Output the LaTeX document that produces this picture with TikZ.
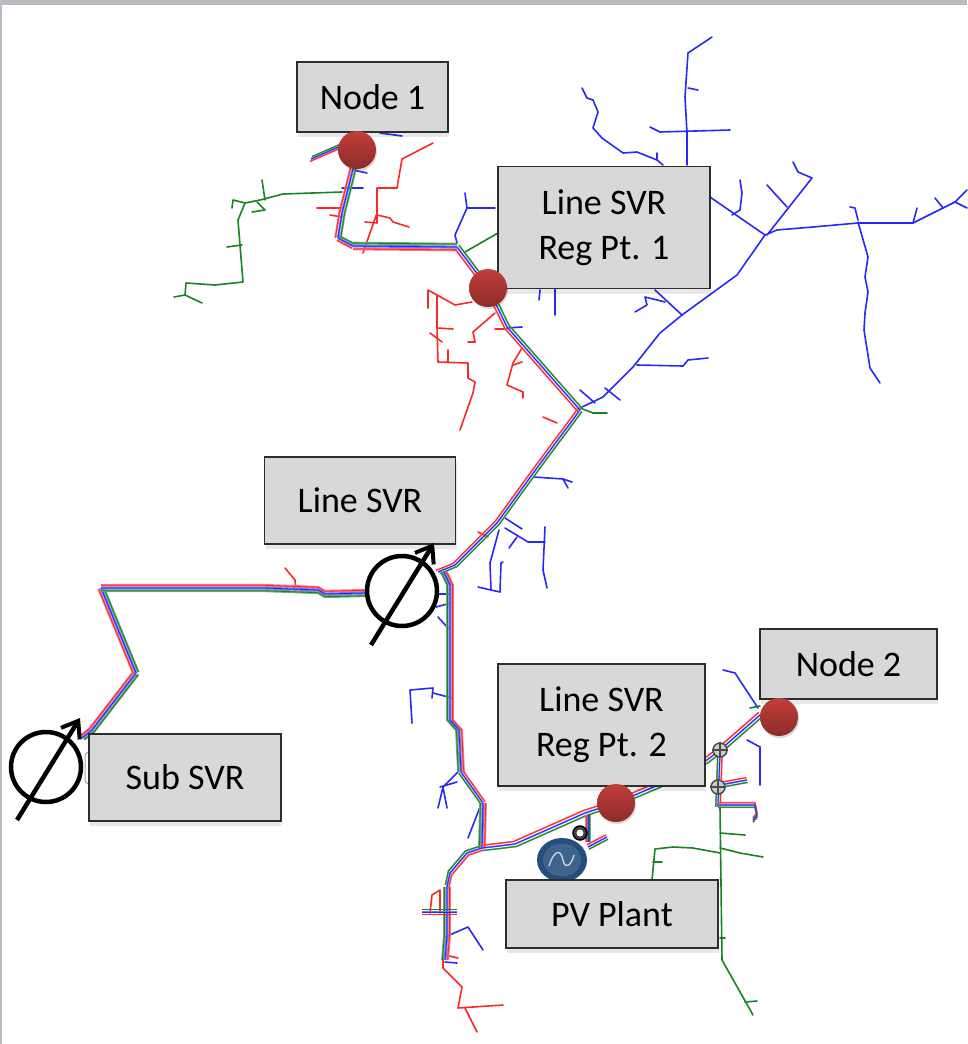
\documentclass[tikz,border=0pt]{standalone}
\usepackage{fontspec}
\setmainfont{Carlito}
\definecolor{phasered}{RGB}{250,40,40}
\definecolor{phaseblue}{RGB}{40,40,250}
\definecolor{phasegreen}{RGB}{25,130,35}
\definecolor{boxfill}{RGB}{216,216,216}
\definecolor{boxline}{RGB}{45,45,45}
\definecolor{frameband}{RGB}{188,186,192}
\definecolor{dottop}{RGB}{194,62,58}
\definecolor{dotlow}{RGB}{140,44,42}
\definecolor{pvblue}{RGB}{36,78,126}
\usetikzlibrary{arrows.meta,shadows,shapes.geometric}
\tikzset{
  svrbox/.style={draw=boxline, line width=1.8pt, fill=boxfill, align=center, inner sep=0pt,
    font=\fontsize{36}{45}\selectfont, drop shadow={shadow xshift=1pt, shadow yshift=-5pt, opacity=0.09, fill=black}},
  regdot/.style={circle, minimum size=38pt, inner sep=0pt, top color=dottop, bottom color=dotlow,
    drop shadow={shadow xshift=1pt, shadow yshift=-2pt, opacity=0.15, fill=black}},
  tap/.style={line width=1.6pt, line join=round, line cap=round},
  regring/.style={draw=black, line width=4.5pt, fill=white, circle, minimum size=70pt, inner sep=0pt},
  regarrow/.style={line width=4.5pt, black, -{Straight Barb[length=15pt, width=22pt, line width=4pt]}},
  switchring/.style={draw=black!70, line width=1.5pt, fill=black!20, circle, minimum size=14pt, inner sep=0pt},
}
\newcommand{\phases}[4][2.4pt]{
  \draw[phasegreen!65!white, line width=#1, line join=round, shift={(#2,#3)}] #4;
  \draw[phasered!65!white, line width=#1, line join=round, shift={(-#2,-#3)}] #4;
  \draw[phaseblue!65!white, line width=#1, line join=round] #4;
  \draw[phasegreen, line width=0.8pt, line join=round, shift={(#2,#3)}] #4;
  \draw[phasered, line width=0.8pt, line join=round, shift={(-#2,-#3)}] #4;
  \draw[phaseblue, line width=0.8pt, line join=round] #4;
}
\begin{document}
\begin{tikzpicture}[x=1pt, y=-1pt]
  \useasboundingbox (0,0) rectangle (967,1044);
  \fill[frameband] (0,0) rectangle (967,4.5);
  \fill[frameband] (0,0) rectangle (2,1044);

  \foreach \p in {
    {(580,408)--(603,397)--(633,367)--(660,333)--(682,315)--(737,275)--(765,235)--(777,230)--(813,227)--(858,223)--(913,223)--(955,202)--(967,190)},
    {(955,202)--(967,208)}, {(943,208)--(935,198)}, {(913,223)--(917,208)},
    {(858,222)--(868,257)--(865,277)--(868,292)--(865,313)--(864,330)--(870,368)--(880,383)},
    {(858,220)--(855,208)--(850,207)}, {(765,235)--(710,197)},
    {(732,215)--(740,210)--(742,193)--(740,180)},
    {(767,235)--(812,178)--(798,172)--(793,162)}, {(787,207)--(767,185)},
    {(687,165)--(687,133)--(685,97)--(688,53)--(712,37)},
    {(650,127)--(660,132)--(730,130)}, {(688,88)--(698,90)},
    {(663,165)--(657,160)--(637,152)--(623,153)--(602,138)--(593,128)--(598,112)--(593,100)--(587,98)--(582,88)},
    {(657,160)--(657,153)}, {(682,315)--(655,290)},
    {(665,302)--(645,297)--(647,305)--(635,312)},
    {(637,365)--(683,366)--(688,360)--(708,358)},
    {(595,403)--(580,390)}, {(605,388)--(620,400)},
    {(555,288)--(555,315)}, {(540,290)--(539,300)},
    {(457,243)--(455,235)--(467,208)--(465,193)}, {(467,208)--(495,208)},
    {(353,170)--(367,173)}, {(342,188)--(363,188)}, {(380,133)--(402,136)},
    {(507,328)--(522,327)},
    {(534,477)--(563,479)--(572,482)}, {(563,479)--(568,488)},
    {(505,518)--(522,529)}, {(505,528)--(528,542)--(545,542)}, {(517,537)--(509,548)},
    {(545,527)--(543,570)--(547,588)},
    {(499,530)--(490,563)--(491,590)--(478,587)}, {(491,590)--(500,592)--(501,563)--(503,562)},
    {(438,594)--(450,594)}, {(436,607)--(451,603)}, {(438,617)--(448,628)},
    {(412,723)--(410,690)--(433,688)--(432,698)}, {(433,693)--(452,698)},
    {(458,772)--(443,787)--(438,808)}, {(443,787)--(447,808)}, {(440,787)--(457,782)},
    {(480,807)--(468,838)},
    {(445,937)--(468,927)--(483,950)}, {(445,962)--(457,963)},
    {(723,670)--(735,673)--(758,708)}, {(747,740)--(760,747)--(760,785)}}
    \draw[phaseblue, tap] \p;

  \foreach \p in {
    {(433,143)--(402,159)--(397,188)--(377,188)--(377,213)--(363,253)},
    {(365,222)--(377,223)--(377,215)--(390,218)--(393,222)--(409,227)},
    {(317,208)--(343,208)}, {(330,215)--(342,217)},
    {(428,308)--(428,290)--(455,305)--(472,302)},
    {(437,295)--(437,327)--(438,362)--(468,363)--(468,378)--(475,382)--(473,393)--(467,410)--(460,430)},
    {(430,333)--(442,342)}, {(437,328)--(453,329)}, {(448,350)--(448,362)},
    {(495,313)--(473,332)--(475,342)--(468,342)}, {(495,329)--(507,329)},
    {(522,348)--(513,363)--(507,385)--(523,392)--(523,398)}, {(513,365)--(522,362)},
    {(543,417)--(557,423)}, {(478,532)--(488,537)},
    {(285,568)--(295,580)--(296,590)},
    {(430,913)--(432,895)--(440,890)--(440,913)},
    {(443,960)--(443,968)--(462,987)--(458,1008)--(503,1005)}, {(465,1008)--(477,1032)},
    {(445,955)--(458,958)}}
    \draw[phasered, tap] \p;

  \foreach \p in {
    {(342,192)--(283,194)--(260,200)--(245,203)--(238,220)--(243,282)--(215,285)--(186,283)--(185,295)--(202,303)},
    {(185,295)--(174,297)}, {(232,208)--(233,200)--(245,203)}, {(262,180)--(265,200)},
    {(252,212)--(265,210)--(257,202)}, {(227,247)--(242,245)},
    {(465,252)--(498,233)}, {(580,408)--(593,413)--(607,413)},
    {(720,807)--(722,960)--(753,1015)}, {(745,1002)--(757,1001)},
    {(720,833)--(745,835)}, {(720,848)--(740,853)--(763,857)},
    {(720,853)--(693,848)--(673,847)--(655,849)--(652,880)}, {(653,862)--(662,862)},
    {(720,938)--(725,938)}, {(750,708)--(760,706)}}
    \draw[phasegreen, tap] \p;

  \phases{2.2}{1.6}{(82,738)--(92,730)--(136,673)}
  \phases{2.4}{-0.9}{(136,673)--(101,588)}
  \phases[2.8pt]{0}{2.7}{(101,588)--(264,588)--(318,590)--(325,594)--(366,593)}
  \phases[1.7pt]{1.9}{1.6}{(438,572)--(455,565)--(497,523)--(534,472)--(580,410)}
  \phases[2.6pt]{-2.6}{0}{(444,572)--(450,585)--(450,720)--(459,730)--(461,772)}
  \phases[1.8pt]{-2}{1.2}{(461,772)--(483,803)}
  \phases[2.6pt]{-2.6}{0}{(483,803)--(482,848)}
  \phases[1.8pt]{-1.6}{-2}{(482,848)--(467,853)--(450,873)--(447,887)}
  \phases[2.6pt]{-2.6}{0}{(447,887)--(447,935)--(445,960)}
  \phases[1.7pt]{1.4}{2.5}{(482,848)--(515,844)--(585,813)--(616,803)--(670,780)--(707,760)--(720,750)--(760,715)}
  \phases[1.7pt]{-2.2}{0}{(720,752)--(718,807)}
  \phases[1.7pt]{0}{2.2}{(718,805)--(755,805)--(757,815)--(753,820)}
  \phases[1.7pt]{0.6}{2.4}{(720,785)--(747,780)}
  \phases[1.7pt]{1.8}{0}{(588,815)--(588,842)}
  \phases[1.7pt]{1}{2.2}{(588,847)--(607,837)}
  \phases[1.7pt]{0}{-2.5}{(422,912)--(457,912)}
  \phases[1.7pt]{2}{-1.7}{(580,410)--(507,327)--(488,288)}
  \phases[1.8pt]{2}{-1.8}{(488,288)--(457,247)}
  \phases[2.8pt]{0}{-2.9}{(457,247)--(353,246)}
  \phases[2.2pt]{1}{-2.2}{(353,246)--(338,238)}
  \phases[2.2pt]{2.6}{0.4}{(338,238)--(342,213)--(354,165)}
  \phases[1.7pt]{1}{-2.4}{(350,142)--(311,159)}

  \node[fill=pvblue, ellipse, minimum width=50pt, minimum height=44pt, inner sep=0pt] (pvunit) at (562,860) {};
  \node[fill=pvblue!88!white, ellipse, minimum width=38pt, minimum height=33pt, inner sep=0pt] (pvcore) at (562,860) {};
  \draw[white!75!pvblue, line width=1.4pt] (549,866) .. controls (555,848) and (561,850) .. (563,860) .. controls (565,870) and (571,866) .. (574,855);

  \draw[black!35, line width=1pt, rounded corners=3pt] (89,752) -- (85,753) -- (85,783) -- (89,784);

  \node[svrbox, minimum width=151pt, minimum height=70pt] (nodeone) at (372.5,97) {Node 1};
  \node[svrbox, minimum width=212pt, minimum height=122pt] (regptone) at (604,227.5) {Line SVR\\Reg Pt. 1};
  \node[svrbox, minimum width=191pt, minimum height=87pt] (linesvr) at (360,500.5) {Line SVR};
  \node[svrbox, minimum width=192pt, minimum height=87pt] (subsvr) at (185,777.5) {Sub SVR};
  \node[svrbox, minimum width=207pt, minimum height=122pt] (regpttwo) at (601.5,725) {Line SVR\\Reg Pt. 2};
  \node[svrbox, minimum width=212pt, minimum height=68pt] (pvplant) at (612,914) {PV Plant};
  \node[svrbox, minimum width=177pt, minimum height=70pt] (nodetwo) at (848.5,664) {Node 2};

  \foreach \name/\x/\y in {dotone/357/150, dottwo/488/288, dotthree/616/803, dotfour/779/717}
    \node[regdot] (\name) at (\x,\y) {};

  \foreach \name/\x/\y in {swone/720/750, swtwo/718/787}{
    \node[switchring] (\name) at (\x,\y) {};
    \draw[black!70, line width=2pt] (\name.north) -- (\name.south) (\name.west) -- (\name.east);
  }
  \node[switchring, fill=black!75, draw=black] (swthree) at (580,833) {};
  \fill[white] (swthree) circle (3.5pt);

  \node[regring] (subring) at (46,767) {};
  \coordinate (subtail) at (17,820);
  \coordinate (subtip) at (80,718);
  \draw[regarrow] (subtail) -- (subtip);
  \node[regring] (linering) at (402,591) {};
  \coordinate (linetail) at (371,645);
  \coordinate (linetip) at (434,543);
  \draw[regarrow] (linetail) -- (linetip);
\end{tikzpicture}
\end{document}
